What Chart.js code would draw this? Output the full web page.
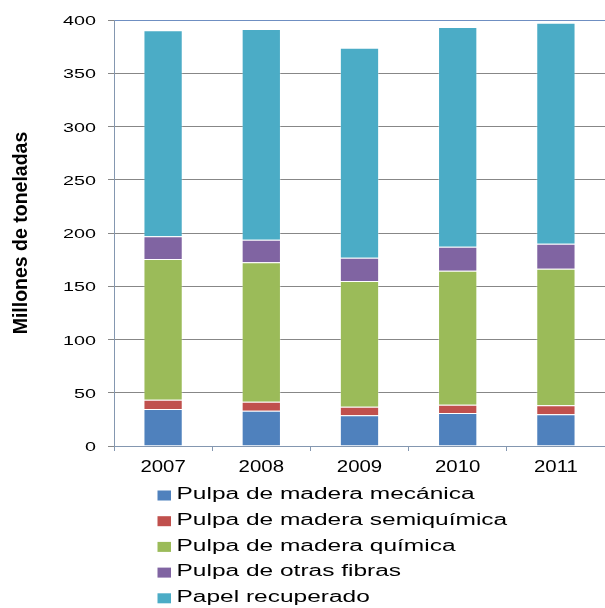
<!DOCTYPE html>
<html>
<head>
<meta charset="utf-8">
<script src="https://cdn.jsdelivr.net/npm/chart.js@4.4.1/dist/chart.umd.min.js"></script>
<style>
  html, body { margin: 0; padding: 0; background: #ffffff; }
  #wrap { position: relative; width: 605px; height: 608px; }
</style>
</head>
<body>
<div id="wrap"><canvas id="c" width="605" height="608"></canvas></div>
<script>
// ---- data ----
const categories = ['2007', '2008', '2009', '2010', '2011'];
const yTicks = [0, 50, 100, 150, 200, 250, 300, 350, 400];
const seriesNames = [
  'Pulpa de madera mecánica',
  'Pulpa de madera semiquímica',
  'Pulpa de madera química',
  'Pulpa de otras fibras',
  'Papel recuperado'
];
const pulpaMecanica     = [34.7, 33.0, 28.8, 31.0, 29.7];
const pulpaSemiquimica  = [8.7, 8.6, 8.1, 7.8, 8.5];
const pulpaQuimica      = [132.2, 130.9, 118.1, 125.8, 128.3];
const pulpaOtrasFibras  = [21.3, 21.2, 21.8, 22.6, 23.5];
const papelRecuperado   = [193.4, 197.9, 197.2, 206.2, 207.5];
const yTitle = 'Millones de toneladas';

const seriesValues = [pulpaMecanica, pulpaSemiquimica, pulpaQuimica, pulpaOtrasFibras, papelRecuperado];
const seriesColors = ['#4F81BD', '#C0504D', '#9BBB59', '#8064A2', '#4BACC6'];

const FONT = '"Liberation Sans", Arial, sans-serif';

function drawStretched(ctx, text, x, y, size, sx, align, weight) {
  ctx.save();
  ctx.font = (weight || 'normal') + ' ' + size + 'px ' + FONT;
  ctx.textAlign = align;
  ctx.textBaseline = 'alphabetic';
  ctx.translate(x, y);
  ctx.scale(sx, 1);
  ctx.fillText(text, 0, 0);
  ctx.restore();
}

const textPlugin = {
  id: 'textPlugin',
  afterDraw(chart) {
    const ctx = chart.ctx;
    const ys = chart.scales.y, xs = chart.scales.x;
    ctx.fillStyle = '#000000';
    // y tick labels
    ys.ticks.forEach(t => {
      drawStretched(ctx, String(t.value), 96, ys.getPixelForValue(t.value) + 5.2, 13, 1.52, 'right');
    });
    // x tick labels
    xs.ticks.forEach((t, i) => {
      drawStretched(ctx, chart.data.labels[i], xs.getPixelForTick(i), 472.3, 17, 1.2, 'center');
    });
    // y axis title (rotated)
    ctx.save();
    ctx.font = 'bold 19.5px ' + FONT;
    ctx.textAlign = 'center';
    ctx.textBaseline = 'alphabetic';
    ctx.translate(26.5, (chart.chartArea.top + chart.chartArea.bottom) / 2);
    ctx.rotate(-Math.PI / 2);
    ctx.fillText(yTitle, 0, 0);
    ctx.restore();
    // legend
    chart.data.datasets.forEach((ds, i) => {
      const rowY = 499.3 + 25.7 * i;
      ctx.fillStyle = ds.backgroundColor;
      ctx.fillRect(157.5, rowY - 8.8, 13.5, 10);
      ctx.fillStyle = '#000000';
      drawStretched(ctx, ds.label, 176.5, rowY, 15.8, 1.55, 'left');
    });
  }
};

const datasets = seriesNames.map((name, i) => ({
  label: name,
  data: seriesValues[i],
  backgroundColor: seriesColors[i],
  borderColor: 'rgba(255,255,255,0.3)',
  borderWidth: 1,
  borderSkipped: 'start',
  barPercentage: 0.4,
  categoryPercentage: 1.0
}));

new Chart(document.getElementById('c'), {
  type: 'bar',
  data: { labels: categories, datasets: datasets },
  options: {
    responsive: false,
    animation: false,
    devicePixelRatio: 1,
    layout: { padding: { top: 20, right: 0, bottom: 132, left: 0 } },
    plugins: {
      legend: { display: false },
      tooltip: { enabled: false }
    },
    scales: {
      x: {
        stacked: true,
        afterFit: s => { s.height = 30; },
        grid: {
          display: true,
          drawOnChartArea: false,
          drawTicks: true,
          tickLength: 5,
          offset: true,
          color: '#8497B0'
        },
        border: { display: true, color: '#8497B0', width: 1 },
        ticks: { display: false }
      },
      y: {
        stacked: true,
        min: yTicks[0],
        max: yTicks[yTicks.length - 1],
        afterFit: s => { s.width = 114; },
        afterBuildTicks: s => { s.ticks = yTicks.map(v => ({ value: v })); },
        grid: {
          color: ctx => (ctx.tick && ctx.tick.value === 400) ? '#6F8FC2' : '#878787',
          tickColor: '#878787',
          tickLength: 6,
          drawTicks: true
        },
        border: { display: true, color: '#8497B0', width: 1 },
        ticks: { display: false, stepSize: 50 }
      }
    }
  },
  plugins: [textPlugin]
});
</script>
</body>
</html>
